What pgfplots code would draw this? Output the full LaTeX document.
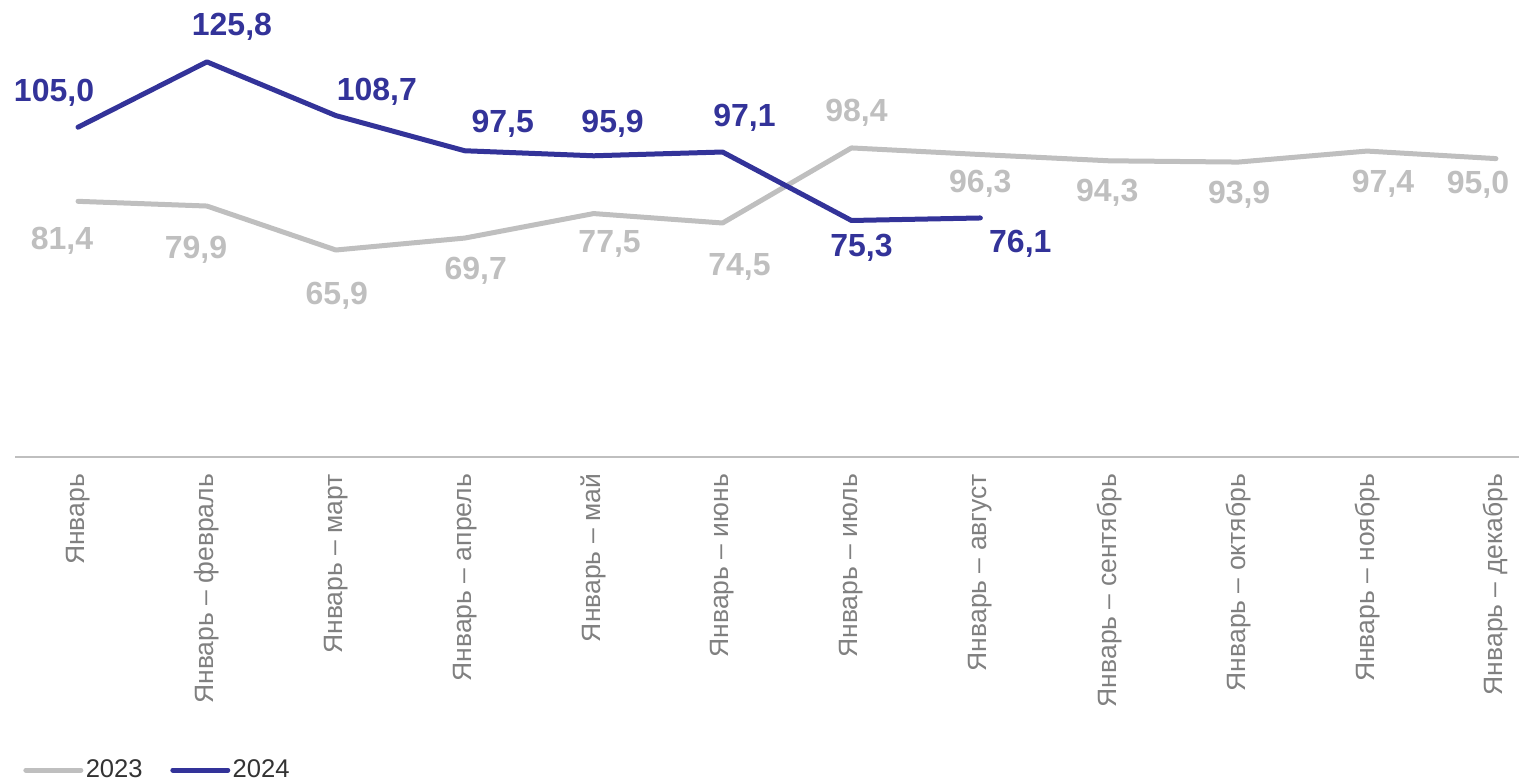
\documentclass[border=0pt]{standalone}
\usepackage{pgfplots}
\pgfplotsset{compat=1.18}
\usepackage{pgfplotstable}
\usepackage{fontspec}
\setmainfont{Liberation Sans}

\definecolor{navy}{HTML}{333399}
\definecolor{lgray}{HTML}{BFBFBF}
\definecolor{tgray}{HTML}{808080}
\definecolor{ltext}{HTML}{333333}

% x, value, label offset (pt)
\pgfplotstableread{
x y dx dy
0 81.4 -8 -19.5
1 79.9 -5.5 -22
2 65.9 0.5 -23
3 69.7 5.5 -16.5
4 77.5 8 -15
5 74.5 8.5 -22
6 98.4 2.5 17.5
7 96.3 0 -14.5
8 94.3 -1 -16
9 93.9 0.5 -16.5
10 97.4 8 -16.5
11 95.0 -9 -13
}\dataA

\pgfplotstableread{
x y dx dy
0 105.0 -12 17
1 125.8 12.5 17.5
2 108.7 20.5 12
3 97.5 19 13.5
4 95.9 9.5 16
5 97.1 11 17
6 75.3 5 -13.5
7 76.1 20 -13
}\dataB

\begin{document}
\begin{tikzpicture}
\path[use as bounding box] (0,0) rectangle (759.5pt,390.5pt);
\begin{axis}[
    at={(7.5pt,162pt)}, anchor=south west,
    scale only axis,
    width=752pt, height=228.5pt,
    xmin=-0.489, xmax=11.179,
    ymin=0, ymax=145.5,
    axis y line=none,
    axis x line*=bottom,
    axis line style={draw=lgray, line width=1pt},
    xtick={0,...,11},
    xticklabels={Январь, Январь – февраль, Январь – март, Январь – апрель,
        Январь – май, Январь – июнь, Январь – июль, Январь – август,
        Январь – сентябрь, Январь – октябрь, Январь – ноябрь, Январь – декабрь},
    xtick style={draw=none},
    xticklabel shift=5pt,
    x tick label style={rotate=90, anchor=east, text=tgray,
        font=\fontsize{13.25}{15}\selectfont},
    clip=false,
    nodes near coords={\pgfmathprintnumber[fixed,fixed zerofill,precision=1,use comma,assume math mode=true]{\pgfplotspointmeta}},
    visualization depends on={\thisrow{dx}\as\dx},
    visualization depends on={\thisrow{dy}\as\dy},
    legend columns=2,
    legend image code/.code={\draw[#1] (0pt,0pt) -- (27.5pt,0pt);},
    legend style={at={(0.0053,-0.685)}, anchor=west, draw=none, fill=none,
        inner sep=0pt, nodes={inner sep=1.2pt}, text=ltext,
        font=\fontsize{12.8}{15}\selectfont,
        /tikz/every even column/.append style={column sep=12.6pt}},
]
\addplot[lgray, line width=2.5pt, line join=round, line cap=round,
    every node near coord/.append style={anchor=center, xshift=\dx pt, yshift=\dy pt,
        text=lgray, font=\bfseries\fontsize{16}{18}\selectfont}]
    table[x=x, y=y] {\dataA};
\addlegendentry{2023}
\addplot[navy, line width=2.5pt, line join=round, line cap=round,
    every node near coord/.append style={anchor=center, xshift=\dx pt, yshift=\dy pt,
        text=navy, font=\bfseries\fontsize{16}{18}\selectfont}]
    table[x=x, y=y] {\dataB};
\addlegendentry{2024}
\end{axis}
\end{tikzpicture}
\end{document}
